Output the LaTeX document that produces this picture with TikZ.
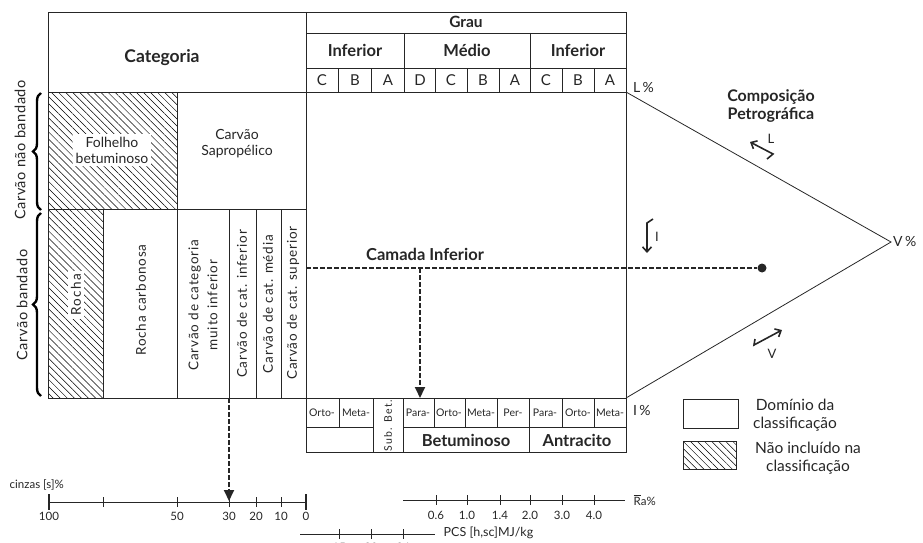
\documentclass[tikz,border=0pt]{standalone}
\usepackage{fontspec}
\setmainfont{Lato}
\usetikzlibrary{patterns.meta,decorations.pathreplacing,arrows.meta}
\begin{document}
\begin{tikzpicture}[x=1pt,y=-1pt,
  gridline/.style={draw=black!85,line width=0.8pt},
  hatch/.style={pattern={Lines[angle=-45,distance=5pt,line width=0.5pt]}},
  txt/.style={font=\fontsize{14}{16}\selectfont,align=center,inner sep=1pt,text=black!85},
  rtxt/.style={txt,rotate=90,font=\fontsize{13.5}{19}\selectfont\addfontfeature{LetterSpace=6}},
  btxt/.style={font=\bfseries\fontsize{16.5}{18}\selectfont,align=center,inner sep=1pt,text=black!85},
  smalltxt/.style={font=\fontsize{10.5}{12}\selectfont,inner sep=0.5pt,text=black!85},
  scaletxt/.style={font=\fontsize{11.5}{13}\selectfont,inner sep=0.5pt,text=black!85},
  dashline/.style={draw=black!85,line width=1.8pt,dash pattern=on 4.5pt off 2.5pt},
  bigtip/.style={-{Triangle[width=10pt,length=11pt]}},
  smallarrow/.style={draw=black!85,line width=1.6pt,-{Straight Barb[length=5pt,width=9pt]}},
  brace/.style={draw=black,line width=2.4pt,decorate,decoration={brace,amplitude=8pt}},
  tick/.style={draw=black!85,line width=0.8pt},
  endtick/.style={draw=black!85,line width=2pt}
]
\useasboundingbox (0,0) rectangle (923,543);

% hatched areas
\path[hatch] (48,92) rectangle (177,209);
\path[hatch] (48,209) rectangle (103,398);

% main grid
\draw[gridline] (48,12) rectangle (626,398);
\draw[gridline] (306,12) -- (306,452);
\draw[gridline] (48,92) -- (626,92);
\draw[gridline] (306,33) -- (626,33);
\draw[gridline] (306,68) -- (626,68);
\draw[gridline] (404,33) -- (404,92);
\draw[gridline] (530,33) -- (530,92);
\foreach \x in {338,371,435,467,499,562,594} \draw[gridline] (\x,68) -- (\x,92);
\draw[gridline] (48,209) -- (306,209);
\draw[gridline] (177,92) -- (177,398);
\foreach \x in {103,229,256,281} \draw[gridline] (\x,209) -- (\x,398);

% bottom table
\draw[gridline] (306,398) rectangle (626,452);
\draw[gridline] (306,427) -- (373,427);
\draw[gridline] (403,427) -- (626,427);
\foreach \x in {373,403,529} \draw[gridline] (\x,398) -- (\x,452);
\foreach \x in {339,434,465,497,562,594} \draw[gridline] (\x,398) -- (\x,427);

% triangle
\coordinate (Lp) at (626,92);
\coordinate (Vp) at (891,242);
\coordinate (Ip) at (626,398);
\draw[draw=black!85,line width=0.8pt] (Lp) -- (Vp) -- (Ip);

% header texts
\node[btxt,font=\bfseries\fontsize{17.5}{19}\selectfont] (cat) at (162,58) {Categoria};
\node[btxt,font=\bfseries\fontsize{15.5}{17}\selectfont] (grau) at (466,22) {Grau};
\node[btxt] (inf1) at (355,50) {Inferior};
\node[btxt] (med) at (467,50) {Médio};
\node[btxt] (inf2) at (578,50) {Inferior};
\foreach \x/\l/\n in {322/C/c1,355/B/c2,388/A/c3,420/D/c4,451/C/c5,483/B/c6,515/A/c7,546/C/c8,578/B/c9,610/A/c10}
  \node[txt,font=\fontsize{15}{16}\selectfont] (\n) at (\x,80) {\l};

% category texts
\node[txt,fill=white,inner sep=3pt] (folh) at (112,150) {Folhelho\\betuminoso};
\node[txt] (sapro) at (237,144) {Carvão\\Sapropélico};
\node[rtxt,fill=white,inner sep=3pt,font=\fontsize{13.5}{16}\selectfont\addfontfeature{LetterSpace=10}] (rocha) at (76,295) {Rocha};
\node[rtxt] (rcarb) at (141,300) {Rocha carbonosa};
\node[rtxt] (cmi) at (203,305) {Carvão de categoria\\muito inferior};
\node[rtxt] (cci) at (242,304) {Carvão de cat. inferior};
\node[rtxt] (ccm) at (268,304) {Carvão de cat. média};
\node[rtxt] (ccs) at (293,303) {Carvão de cat. superior};

% braces and side labels
\draw[brace] (41,210) -- (41,93);
\draw[brace] (41,396) -- (41,213);
\node[rtxt,font=\fontsize{14.5}{16}\selectfont\addfontfeature{LetterSpace=4}] (cnb) at (20,150) {Carvão não bandado};
\node[rtxt,font=\fontsize{14.5}{16}\selectfont\addfontfeature{LetterSpace=4}] (cb) at (22,305) {Carvão bandado};

% bottom table texts
\foreach \x/\l/\n in {322/Orto-/b1,356/Meta-/b2,418/Para-/b3,449/Orto-/b4,481/Meta-/b5,513/Per-/b6,545/Para-/b7,578/Orto-/b8,610/Meta-/b9}
  \node[smalltxt] (\n) at (\x,413) {\l};
\node[smalltxt,rotate=90,font=\fontsize{10.5}{12}\selectfont\addfontfeature{LetterSpace=12}] (subbet) at (388,426) {Sub. Bet.};
\node[btxt] (betum) at (466,440) {Betuminoso};
\node[btxt] (antr) at (577,440) {Antracito};

% triangle labels
\node[txt,anchor=west] (lpc) at (632,87) {L\,\%};
\node[txt,anchor=west] (vpc) at (892,241) {V\,\%};
\node[txt,anchor=west] (ipc) at (632,410) {I\,\%};
\node[btxt,font=\bfseries\fontsize{16}{18}\selectfont] (comp) at (771,106) {Composição\\Petrográfica};

% small direction arrows
\draw[smallarrow] (767,159) -- (773,154) -- (750,142);
\node[txt,font=\fontsize{13}{14}\selectfont] (lL) at (771,139) {L};
\draw[smallarrow] (653,219) -- (647,223) -- (647,253);
\node[txt,font=\fontsize{13}{14}\selectfont] (lI) at (657,237) {I};
\draw[smallarrow] (755,339) -- (754,345) -- (782,330);
\node[txt,font=\fontsize{13}{14}\selectfont] (lV) at (772,354) {V};

% Camada Inferior and dashed connectors
\node[btxt] (camada) at (425,254) {Camada Inferior};
\coordinate (hstart) at (306,268);
\node[circle,fill=black!85,inner sep=0pt,minimum size=9pt] (dot) at (762,268) {};
\draw[dashline] (hstart) -- (dot);
\coordinate (vsrc) at (420,268);
\coordinate (vdst) at (420,398);
\draw[dashline,bigtip] (vsrc) -- (vdst);
\coordinate (csrc) at (229,398);
\coordinate (cdst) at (229,501);
\draw[dashline,bigtip] (csrc) -- (cdst);

% cinzas scale
\node[scaletxt,anchor=west] (cinz) at (9,485) {cinzas [s]\%};
\draw[tick] (49,502) -- (306,502);
\draw[endtick] (49,494) -- (49,510);
\draw[endtick] (306,494) -- (306,510);
\foreach \x in {103,177,229,256,281} \draw[tick] (\x,497) -- (\x,507);
\foreach \x/\l/\n in {49/100/s1,177/50/s2,229/30/s3,256/20/s4,281/10/s5,306/0/s6}
  \node[scaletxt] (\n) at (\x,516) {\l};

% Ra scale
\draw[tick] (403,500) -- (625,500);
\foreach \x/\l/\n in {436/0.6/r1,467/1.0/r2,500/1.4/r3,530/2.0/r4,562/3.0/r5,594/4.0/r6} {
  \draw[tick] (\x,495) -- (\x,505);
  \node[scaletxt] (\n) at (\x,515) {\l};
}
\node[scaletxt,anchor=west] (ra) at (633,500) {\(\overline{\hbox{R}}\)a\%};

% PCS scale
\draw[tick] (300,534) -- (435,534);
\foreach \x/\l/\n in {339/15/p1,371/20/p2,403/24/p3} {
  \draw[tick] (\x,529) -- (\x,539);
  \node[scaletxt] (\n) at (\x,547) {\l};
}
\node[scaletxt,font=\fontsize{12.5}{14}\selectfont,anchor=west] (pcs) at (443,533) {PCS [h,sc]MJ/kg};

% legend
\draw[gridline] (683,399) rectangle (738,428);
\node[txt,font=\fontsize{15.5}{18}\selectfont] (leg1) at (795,415) {Domínio da\\classificação};
\draw[gridline,hatch] (683,441) rectangle (736,469);
\node[txt,font=\fontsize{15.5}{18}\selectfont] (leg2) at (808,458) {Não incluído na\\classificação};
\end{tikzpicture}
\end{document}
